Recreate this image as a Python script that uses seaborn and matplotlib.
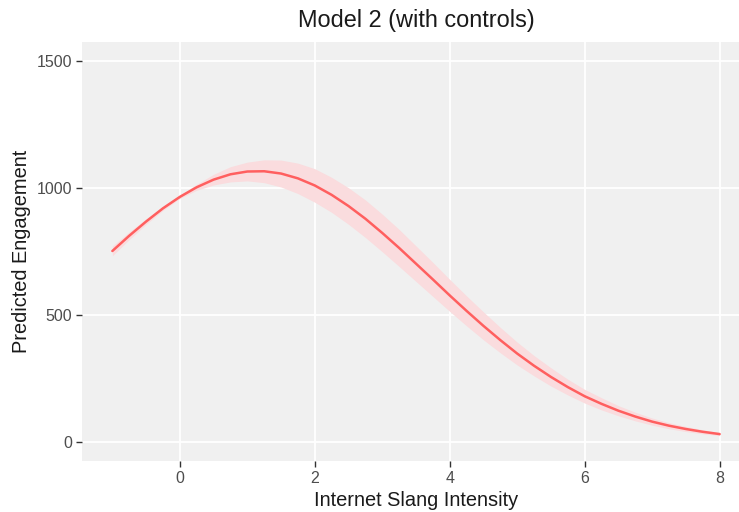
import matplotlib
matplotlib.use("Agg")
import matplotlib.pyplot as plt
import seaborn as sns
import pandas as pd

# Data
slang_intensity = [-1.0, -0.75, -0.5, -0.25, 0.0, 0.25, 0.5, 0.75, 1.0, 1.25, 1.5, 1.75,
                   2.0, 2.25, 2.5, 2.75, 3.0, 3.25, 3.5, 3.75, 4.0, 4.25, 4.5, 4.75,
                   5.0, 5.25, 5.5, 5.75, 6.0, 6.25, 6.5, 6.75, 7.0, 7.25, 7.5, 7.75, 8.0]
predicted = [752, 812, 868, 920, 965, 1003, 1033, 1054, 1065, 1066, 1057, 1038,
             1010, 973, 929, 879, 823, 764, 702, 640, 577, 516, 457, 401,
             348, 300, 256, 216, 180, 150, 123, 100, 80, 64, 51, 40, 31]
lower = [733, 797, 857, 912, 959, 991, 1012, 1024, 1028, 1021, 1004, 978,
         944, 904, 857, 805, 749, 691, 632, 573, 514, 457, 402, 351,
         303, 260, 220, 185, 153, 126, 103, 83, 66, 52, 41, 32, 25]
upper = [771, 827, 879, 928, 971, 1015, 1054, 1084, 1102, 1111, 1110, 1098,
         1076, 1042, 1001, 953, 897, 837, 772, 707, 640, 575, 512, 451,
         393, 340, 292, 247, 207, 174, 143, 117, 94, 76, 61, 48, 37]

x_ticks = [0, 2, 4, 6, 8]
y_ticks = [0, 500, 1000, 1500]

title = "Model 2 (with controls)"
x_label = "Internet Slang Intensity"
y_label = "Predicted Engagement"

df = pd.DataFrame({"x": slang_intensity, "y": predicted, "lo": lower, "hi": upper})

sns.set_theme(style="darkgrid", rc={
    "axes.facecolor": "#F0F0F0",
    "grid.color": "white",
    "grid.linewidth": 1.3,
    "axes.edgecolor": "#F0F0F0",
})
plt.rcParams["font.family"] = ["Liberation Sans", "DejaVu Sans"]

W, H = 739, 512
fig = plt.figure(figsize=(W / 100, H / 100), dpi=100)
left_px, right_px, top_px, bottom_px = 82, 750, 42, 461
ax = fig.add_axes([left_px / W, 1 - bottom_px / H, (right_px - left_px) / W, (bottom_px - top_px) / H])

ax.fill_between(df["x"], df["lo"], df["hi"], color="#FADCDE", linewidth=0, zorder=2)
sns.lineplot(data=df, x="x", y="y", ax=ax, color="#FF5F5F", linewidth=1.8, zorder=3)

ax.set_xlim(-1.45, 8.45)
ax.set_ylim(-75, 1575)
ax.set_xticks(x_ticks)
ax.set_yticks(y_ticks)
ax.set_xticklabels([str(t) for t in x_ticks])
ax.set_yticklabels([str(t) for t in y_ticks])
ax.tick_params(axis="both", which="major", length=4, width=1, color="#333333",
               labelsize=11.5, labelcolor="#4D4D4D", pad=3, direction="out",
               bottom=True, left=True)
for s in ax.spines.values():
    s.set_visible(False)

ax.set_xlabel(x_label, fontsize=14.4, color="#1A1A1A", labelpad=4)
ax.set_ylabel(y_label, fontsize=14.4, color="#1A1A1A", labelpad=4)
ax.set_title(title, fontsize=16.9, color="#1A1A1A", pad=11)

fig.savefig("out.png", dpi=100)
